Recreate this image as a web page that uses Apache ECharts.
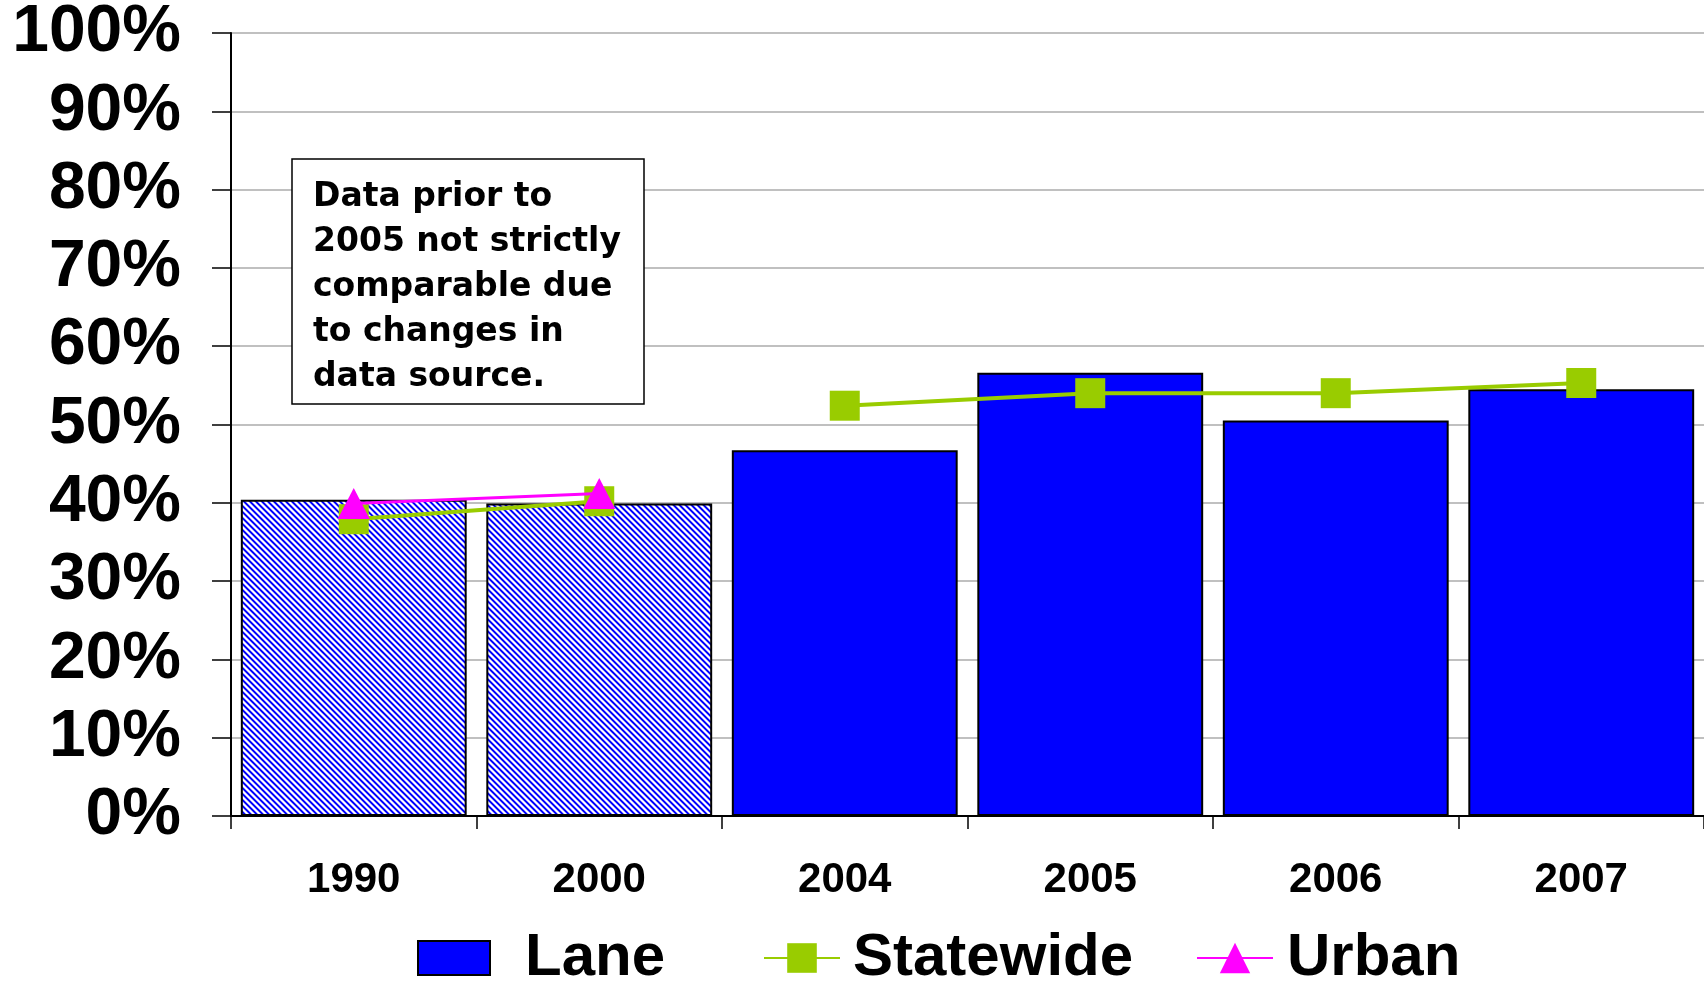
<!DOCTYPE html>
<html>
<head>
<meta charset="utf-8">
<script src="https://cdn.jsdelivr.net/npm/echarts@6/dist/echarts.min.js"></script>
<style>
  html, body { margin: 0; padding: 0; background: #fff; }
  #chart { width: 1704px; height: 982px; }
</style>
</head>
<body>
<div id="chart"></div>
<script>
// ---- data ----
const categories = ['1990', '2000', '2004', '2005', '2006', '2007'];
const laneValues = [40.4, 39.9, 46.7, 56.6, 50.5, 54.5];
const statewideValues = [37.9, 40.2, 52.4, 54.0, 54.0, 55.3];
const urbanValues = [39.9, 41.2, null, null, null, null];
const hatchedCategories = ['1990', '2000'];
const yTicks = [0, 10, 20, 30, 40, 50, 60, 70, 80, 90, 100];
const noteLines = ['Data prior to', '2005 not strictly', 'comparable due', 'to changes in', 'data source.'];

// ---- hatch pattern ----
function makeHatch() {
  const n = 6;
  const c = document.createElement('canvas');
  c.width = n; c.height = n;
  const ctx = c.getContext('2d');
  const img = ctx.createImageData(n, n);
  for (let y = 0; y < n; y++) {
    for (let x = 0; x < n; x++) {
      const m = ((x - y) % n + n) % n;
      let r, g, b;
      if (m < 2) { r = 0; g = 0; b = 255; }
      else if (m === 2 || m === 5) { r = 150; g = 150; b = 255; }
      else { r = 255; g = 255; b = 255; }
      const i = (y * n + x) * 4;
      img.data[i] = r; img.data[i + 1] = g; img.data[i + 2] = b; img.data[i + 3] = 255;
    }
  }
  ctx.putImageData(img, 0, 0);
  return c;
}
const hatch = { image: makeHatch(), repeat: 'repeat' };

const FONT = "'Liberation Sans', Arial, sans-serif";
const BLUE = '#0000FF';
const GREEN = '#99CC00';
const MAGENTA = '#FF00FF';

const isHatched = i => hatchedCategories.indexOf(categories[i]) >= 0;

const laneData = laneValues.map((v, i) =>
  isHatched(i) ? { value: v, itemStyle: { color: hatch } } : v
);
// Statewide line is broken between the two data periods
const statewideEarly = statewideValues.map((v, i) => (isHatched(i) ? v : null));
const statewideLate = statewideValues.map((v, i) => (isHatched(i) ? null : v));

const chart = echarts.init(document.getElementById('chart'), null, { renderer: 'canvas' });

const legendText = pad => ({
  color: '#000', fontFamily: FONT, fontWeight: 'bold', fontSize: 60, padding: [15, 0, 0, pad]
});

const statewideStyle = {
  type: 'line',
  name: 'Statewide',
  symbol: 'rect',
  symbolSize: 30,
  connectNulls: false,
  lineStyle: { color: GREEN, width: 4 },
  itemStyle: { color: GREEN },
  z: 3
};

chart.setOption({
  animation: false,
  backgroundColor: '#fff',
  grid: { left: 231, right: 0, top: 33, bottom: 166, containLabel: false },
  xAxis: {
    type: 'category',
    data: categories,
    axisLine: { lineStyle: { color: '#000', width: 2 } },
    axisTick: { show: true, length: 13, lineStyle: { color: '#000', width: 1.5 } },
    axisLabel: { color: '#000', fontFamily: FONT, fontWeight: 'bold', fontSize: 42, margin: 43 }
  },
  yAxis: {
    type: 'value',
    min: 0, max: 100, interval: 10,
    axisLine: { show: true, lineStyle: { color: '#000', width: 2 } },
    axisTick: { show: true, length: 19, lineStyle: { color: '#000', width: 1.5 } },
    axisLabel: {
      color: '#000', fontFamily: FONT, fontWeight: 'bold', fontSize: 66, margin: 50,
      formatter: v => (yTicks.indexOf(v) >= 0 ? v + '%' : '')
    },
    splitLine: { show: true, lineStyle: { color: '#C0C0C0', width: 2 } }
  },
  legend: [
    {
      data: [{ name: 'Lane', icon: 'rect' }], left: 417, top: 928, itemWidth: 72, itemHeight: 34, padding: 0,
      textStyle: legendText(30)
    },
    {
      data: ['Statewide'], left: 763, top: 928, itemWidth: 76, itemHeight: 37, padding: 0,
      textStyle: legendText(8)
    },
    {
      data: ['Urban'], left: 1196, top: 928, itemWidth: 76, itemHeight: 38, padding: 0,
      textStyle: legendText(9)
    }
  ],
  series: [
    {
      name: 'Lane',
      type: 'bar',
      data: laneData,
      barCategoryGap: '8%',
      itemStyle: { color: BLUE, borderColor: '#000', borderWidth: 2 },
      z: 2
    },
    Object.assign({}, statewideStyle, { data: statewideEarly }),
    Object.assign({}, statewideStyle, { data: statewideLate }),
    {
      name: 'Urban',
      type: 'line',
      data: urbanValues,
      symbol: 'triangle',
      symbolSize: [32, 31],
      connectNulls: false,
      lineStyle: { color: MAGENTA, width: 3 },
      itemStyle: { color: MAGENTA },
      z: 4
    }
  ],
  graphic: [
    {
      type: 'rect',
      shape: { x: 292, y: 159, width: 352, height: 245 },
      style: { fill: '#fff', stroke: '#000', lineWidth: 1.5 },
      z: 10
    },
    {
      type: 'text',
      x: 313, y: 175,
      style: {
        text: noteLines.join('\n'),
        font: "bold 33px 'DejaVu Sans', Verdana, sans-serif",
        lineHeight: 45,
        fill: '#000',
        verticalAlign: 'top'
      },
      z: 11
    }
  ]
});
</script>
</body>
</html>
